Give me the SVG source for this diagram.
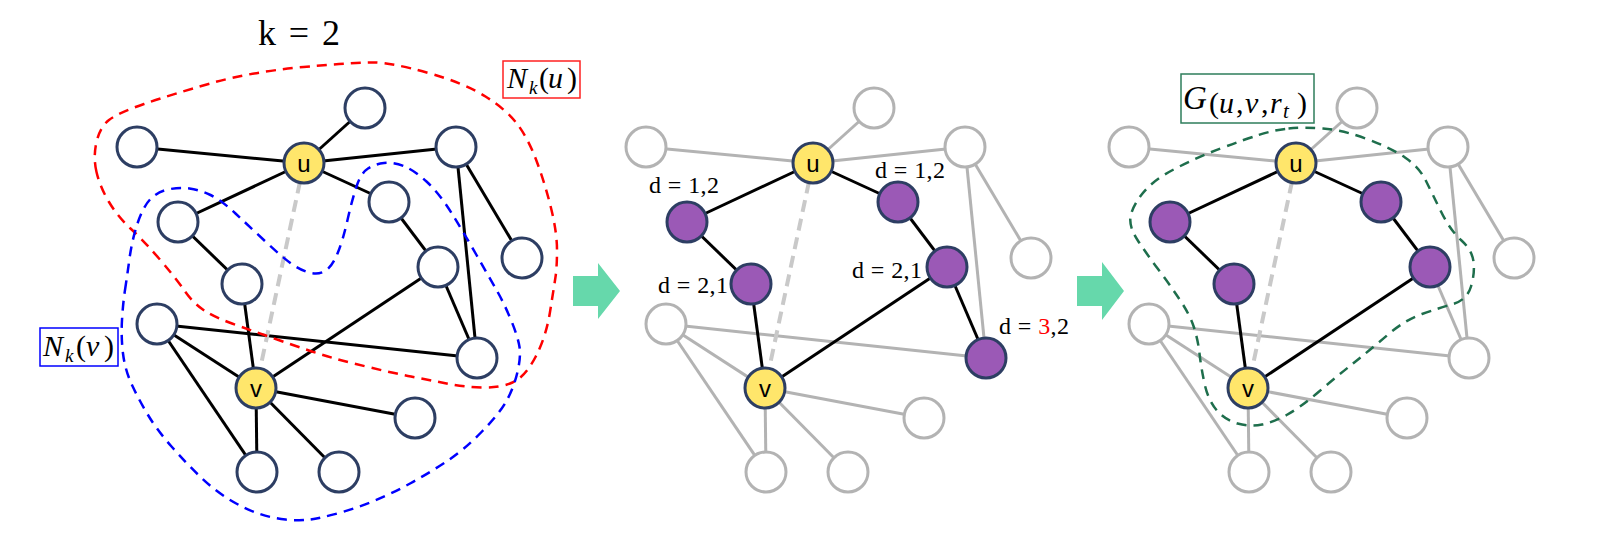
<svg xmlns="http://www.w3.org/2000/svg" width="1600" height="547" viewBox="0 0 1600 547">
<style>
.e{stroke:#000;stroke-width:3}
.g{stroke:#B3B3B3;stroke-width:3}
.uv{stroke:#C9C9C9;stroke-width:4;stroke-dasharray:12 7}
.n{fill:#fff;stroke:#2D3E63;stroke-width:3}
.ng{fill:#fff;stroke:#B3B3B3;stroke-width:3}
.np{fill:#9B59B6;stroke:#2D3E63;stroke-width:3}
.ny{fill:#FFE66B;stroke:#2D3E63;stroke-width:3}
.nl{font-family:"Liberation Sans",Arial,sans-serif;font-size:24px;text-anchor:middle;fill:#000}
.d{font-family:"Liberation Serif","Times New Roman",serif;font-size:24px;fill:#000}
.m{font-family:"Liberation Serif","Times New Roman",serif;fill:#000}
.hull{fill:none;stroke-width:2.5;stroke-dasharray:10 7}
.arrow{fill:#66D8AB}
</style>
<rect width="1600" height="547" fill="#fff"/>

<text class="m" x="258" y="45" font-size="36" textLength="82">k = 2</text>

<g id="connectors">
<g id="edges-left">
<line class="e" x1="304" y1="163" x2="137" y2="147"/>
<line class="e" x1="304" y1="163" x2="365" y2="108"/>
<line class="e" x1="304" y1="163" x2="456" y2="147"/>
<line class="e" x1="304" y1="163" x2="389" y2="202"/>
<line class="e" x1="304" y1="163" x2="178" y2="222"/>
<line class="e" x1="178" y1="222" x2="242" y2="284"/>
<line class="e" x1="242" y1="284" x2="256" y2="388"/>
<line class="e" x1="389" y1="202" x2="438" y2="267"/>
<line class="e" x1="456" y1="147" x2="477" y2="358"/>
<line class="e" x1="456" y1="147" x2="522" y2="258"/>
<line class="e" x1="438" y1="267" x2="477" y2="358"/>
<line class="e" x1="438" y1="267" x2="256" y2="388"/>
<line class="e" x1="157" y1="324" x2="477" y2="358"/>
<line class="e" x1="157" y1="324" x2="256" y2="388"/>
<line class="e" x1="157" y1="324" x2="257" y2="472"/>
<line class="e" x1="256" y1="388" x2="257" y2="472"/>
<line class="e" x1="256" y1="388" x2="339" y2="472"/>
<line class="e" x1="256" y1="388" x2="415" y2="418"/>
<line class="uv" x1="304" y1="163" x2="256" y2="388"/>
</g>
<g id="edges-middle">
<line class="g" x1="813" y1="163" x2="646" y2="147"/>
<line class="g" x1="813" y1="163" x2="874" y2="108"/>
<line class="g" x1="813" y1="163" x2="965" y2="147"/>
<line class="g" x1="965" y1="147" x2="986" y2="358"/>
<line class="g" x1="965" y1="147" x2="1031" y2="258"/>
<line class="g" x1="666" y1="324" x2="986" y2="358"/>
<line class="g" x1="666" y1="324" x2="765" y2="388"/>
<line class="g" x1="666" y1="324" x2="766" y2="472"/>
<line class="g" x1="765" y1="388" x2="766" y2="472"/>
<line class="g" x1="765" y1="388" x2="848" y2="472"/>
<line class="g" x1="765" y1="388" x2="924" y2="418"/>
<line class="e" x1="813" y1="163" x2="687" y2="222"/>
<line class="e" x1="687" y1="222" x2="751" y2="284"/>
<line class="e" x1="751" y1="284" x2="765" y2="388"/>
<line class="e" x1="813" y1="163" x2="898" y2="202"/>
<line class="e" x1="898" y1="202" x2="947" y2="267"/>
<line class="e" x1="947" y1="267" x2="765" y2="388"/>
<line class="e" x1="947" y1="267" x2="986" y2="358"/>
<line class="uv" x1="813" y1="163" x2="765" y2="388"/>
</g>
<g id="edges-right">
<line class="g" x1="1296" y1="163" x2="1129" y2="147"/>
<line class="g" x1="1296" y1="163" x2="1357" y2="108"/>
<line class="g" x1="1296" y1="163" x2="1448" y2="147"/>
<line class="g" x1="1448" y1="147" x2="1469" y2="358"/>
<line class="g" x1="1448" y1="147" x2="1514" y2="258"/>
<line class="g" x1="1430" y1="267" x2="1469" y2="358"/>
<line class="g" x1="1149" y1="324" x2="1469" y2="358"/>
<line class="g" x1="1149" y1="324" x2="1248" y2="388"/>
<line class="g" x1="1149" y1="324" x2="1249" y2="472"/>
<line class="g" x1="1248" y1="388" x2="1249" y2="472"/>
<line class="g" x1="1248" y1="388" x2="1331" y2="472"/>
<line class="g" x1="1248" y1="388" x2="1407" y2="418"/>
<line class="e" x1="1296" y1="163" x2="1170" y2="222"/>
<line class="e" x1="1170" y1="222" x2="1234" y2="284"/>
<line class="e" x1="1234" y1="284" x2="1248" y2="388"/>
<line class="e" x1="1296" y1="163" x2="1381" y2="202"/>
<line class="e" x1="1381" y1="202" x2="1430" y2="267"/>
<line class="e" x1="1430" y1="267" x2="1248" y2="388"/>
<line class="uv" x1="1296" y1="163" x2="1248" y2="388"/>
</g>
</g>

<g id="left-nodes">
<g id="L-A"><circle class="n" cx="137" cy="147" r="20"/></g>
<g id="L-T"><circle class="n" cx="365" cy="108" r="20"/></g>
<g id="L-C"><circle class="n" cx="456" cy="147" r="20"/></g>
<g id="L-D"><circle class="n" cx="389" cy="202" r="20"/></g>
<g id="L-E"><circle class="n" cx="178" cy="222" r="20"/></g>
<g id="L-F"><circle class="n" cx="242" cy="284" r="20"/></g>
<g id="L-G"><circle class="n" cx="522" cy="258" r="20"/></g>
<g id="L-H"><circle class="n" cx="438" cy="267" r="20"/></g>
<g id="L-I"><circle class="n" cx="157" cy="324" r="20"/></g>
<g id="L-J"><circle class="n" cx="477" cy="358" r="20"/></g>
<g id="L-K"><circle class="n" cx="415" cy="418" r="20"/></g>
<g id="L-L"><circle class="n" cx="257" cy="472" r="20"/></g>
<g id="L-M"><circle class="n" cx="339" cy="472" r="20"/></g>
<g id="L-u"><circle class="ny" cx="304" cy="163" r="20"/><text class="nl" x="304" y="172">u</text></g>
<g id="L-v"><circle class="ny" cx="256" cy="388" r="20"/><text class="nl" x="256" y="397">v</text></g>
</g>

<g id="middle-nodes">
<g id="M-A"><circle class="ng" cx="646" cy="147" r="20"/></g>
<g id="M-T"><circle class="ng" cx="874" cy="108" r="20"/></g>
<g id="M-C"><circle class="ng" cx="965" cy="147" r="20"/></g>
<g id="M-D"><circle class="np" cx="898" cy="202" r="20"/></g>
<g id="M-E"><circle class="np" cx="687" cy="222" r="20"/></g>
<g id="M-F"><circle class="np" cx="751" cy="284" r="20"/></g>
<g id="M-G"><circle class="ng" cx="1031" cy="258" r="20"/></g>
<g id="M-H"><circle class="np" cx="947" cy="267" r="20"/></g>
<g id="M-I"><circle class="ng" cx="666" cy="324" r="20"/></g>
<g id="M-J"><circle class="np" cx="986" cy="358" r="20"/></g>
<g id="M-K"><circle class="ng" cx="924" cy="418" r="20"/></g>
<g id="M-L"><circle class="ng" cx="766" cy="472" r="20"/></g>
<g id="M-M"><circle class="ng" cx="848" cy="472" r="20"/></g>
<g id="M-u"><circle class="ny" cx="813" cy="163" r="20"/><text class="nl" x="813" y="172">u</text></g>
<g id="M-v"><circle class="ny" cx="765" cy="388" r="20"/><text class="nl" x="765" y="397">v</text></g>
</g>

<g id="right-nodes">
<g id="R-A"><circle class="ng" cx="1129" cy="147" r="20"/></g>
<g id="R-T"><circle class="ng" cx="1357" cy="108" r="20"/></g>
<g id="R-C"><circle class="ng" cx="1448" cy="147" r="20"/></g>
<g id="R-D"><circle class="np" cx="1381" cy="202" r="20"/></g>
<g id="R-E"><circle class="np" cx="1170" cy="222" r="20"/></g>
<g id="R-F"><circle class="np" cx="1234" cy="284" r="20"/></g>
<g id="R-G"><circle class="ng" cx="1514" cy="258" r="20"/></g>
<g id="R-H"><circle class="np" cx="1430" cy="267" r="20"/></g>
<g id="R-I"><circle class="ng" cx="1149" cy="324" r="20"/></g>
<g id="R-J"><circle class="ng" cx="1469" cy="358" r="20"/></g>
<g id="R-K"><circle class="ng" cx="1407" cy="418" r="20"/></g>
<g id="R-L"><circle class="ng" cx="1249" cy="472" r="20"/></g>
<g id="R-M"><circle class="ng" cx="1331" cy="472" r="20"/></g>
<g id="R-u"><circle class="ny" cx="1296" cy="163" r="20"/><text class="nl" x="1296" y="172">u</text></g>
<g id="R-v"><circle class="ny" cx="1248" cy="388" r="20"/><text class="nl" x="1248" y="397">v</text></g>
</g>

<g id="hulls">
<path id="hull-Nu" class="hull" stroke="#FF0000" d="M96.5,172 Q93,157 96.5,142 Q100,127 109,120 Q118,113 144,104 Q170,95 210,83.5 Q250,72 303.5,67 Q357,62 375,62.5 Q393,63 428.5,73 Q464,83 485.5,96.5 Q507,110 518,125 Q529,140 537.5,163.5 Q546,187 551.5,210 Q557,233 557,250 Q557,267 555.5,277 Q554,287 550,312 Q546,337 535.5,357 Q525,377 512.5,382.5 Q500,388 482,387.5 Q464,387 446.5,383.5 Q429,380 411,376.5 Q393,373 366,366.5 Q339,360 323,355 Q307,350 278.5,340 Q250,330 232,323.5 Q214,317 203.5,310 Q193,303 184,290 Q175,277 159,258.5 Q143,240 130.5,228.5 Q118,217 109,202 Q100,187 96.5,172 Z"/>
<path id="hull-Nv" class="hull" stroke="#0000FF" d="M125,290 Q127,277 129.5,258.5 Q132,240 137.5,223.5 Q143,207 150,199.5 Q157,192 168,189.5 Q179,187 189.5,188.5 Q200,190 210.5,195 Q221,200 235.5,213.5 Q250,227 266,242 Q282,257 291,263.5 Q300,270 309,272.5 Q318,275 325,271 Q332,267 337.5,253.5 Q343,240 347.5,220 Q352,200 356.5,186.5 Q361,173 368,168.5 Q375,164 384,163 Q393,162 403.5,166 Q414,170 426.5,181.5 Q439,193 451.5,213 Q464,233 476.5,255 Q489,277 496.5,290 Q504,303 511,320 Q518,337 519.5,347 Q521,357 517.5,372 Q514,387 507,400 Q500,413 482,431.5 Q464,450 446.5,461.5 Q429,473 411,483 Q393,493 375,500.5 Q357,508 339,513 Q321,518 310.5,519.5 Q300,521 285.5,519.5 Q271,518 257,513 Q243,508 228.5,499 Q214,490 200,476.5 Q186,463 171.5,446.5 Q157,430 148,415 Q139,400 132,385 Q125,370 123,353.5 Q121,337 122,320 Q123,303 125,290 Z"/>
<path id="hull-G" class="hull" stroke="#1E6E4C" d="M1288.5,128.5 Q1303,127 1323,128.5 Q1343,130 1367,139 Q1391,148 1405,157.5 Q1419,167 1425.5,180 Q1432,193 1441,211.5 Q1450,230 1461,240 Q1472,250 1473.5,261.5 Q1475,273 1471,286.5 Q1467,300 1453,304 Q1439,308 1422,314 Q1405,320 1387.5,335 Q1370,350 1353,363.5 Q1336,377 1318.5,392 Q1301,407 1287.5,414.5 Q1274,422 1262,424.5 Q1250,427 1237.5,423.5 Q1225,420 1216.5,410 Q1208,400 1204.5,383.5 Q1201,367 1199.5,353.5 Q1198,340 1194,327.5 Q1190,315 1180,300 Q1170,285 1158,269 Q1146,253 1137.5,240 Q1129,227 1130.5,217 Q1132,207 1142.5,193.5 Q1153,180 1175.5,168.5 Q1198,157 1220.5,148.5 Q1243,140 1258.5,135 Q1274,130 1288.5,128.5 Z"/>
</g>

<g id="label-Nu">
<rect x="503" y="61" width="77" height="37" fill="#fff" stroke="#FF2020" stroke-width="1.5"/>
<text class="m" font-size="30"><tspan x="507" y="88" font-style="italic">N</tspan><tspan x="529" y="94" font-size="19" font-style="italic">k</tspan><tspan x="539" y="88">(</tspan><tspan x="548" y="88" font-style="italic">u</tspan><tspan x="567" y="88">)</tspan></text>
</g>
<g id="label-Nv">
<rect x="40" y="328" width="78" height="38" fill="#fff" stroke="#0000FF" stroke-width="1.5"/>
<text class="m" font-size="30"><tspan x="43" y="356" font-style="italic">N</tspan><tspan x="65" y="362" font-size="19" font-style="italic">k</tspan><tspan x="76" y="356">(</tspan><tspan x="86" y="356" font-style="italic">v</tspan><tspan x="104" y="356">)</tspan></text>
</g>
<g id="label-G">
<rect x="1181" y="74" width="133" height="49" fill="#fff" stroke="#2E7D5B" stroke-width="1.5"/>
<text class="m"><tspan x="1183" y="109" font-size="33" font-style="italic">G</tspan><tspan x="1209" y="113" font-size="30">(</tspan><tspan x="1219" y="113" font-size="30" font-style="italic">u</tspan><tspan x="1236" y="113" font-size="30">,</tspan><tspan x="1245" y="113" font-size="30" font-style="italic">v</tspan><tspan x="1261" y="113" font-size="30">,</tspan><tspan x="1270" y="113" font-size="30" font-style="italic">r</tspan><tspan x="1283" y="118" font-size="21" font-style="italic">t</tspan><tspan x="1297" y="113" font-size="30">)</tspan></text>
</g>

<g id="d-labels">
<text class="d" x="649" y="193" textLength="70">d = 1,2</text>
<text class="d" x="875" y="178" textLength="70">d = 1,2</text>
<text class="d" x="658" y="293" textLength="70">d = 2,1</text>
<text class="d" x="852" y="278" textLength="70">d = 2,1</text>
<text class="d" x="999" y="334" textLength="70">d = <tspan fill="#FF0000">3</tspan>,2</text>
</g>

<g id="arrows">
<polygon class="arrow" points="573,276 598,276 598,263 620,291 598,319 598,306 573,306"/>
<polygon class="arrow" points="1077,276 1102,276 1102,262 1124,291 1102,320 1102,306 1077,306"/>
</g>
</svg>
